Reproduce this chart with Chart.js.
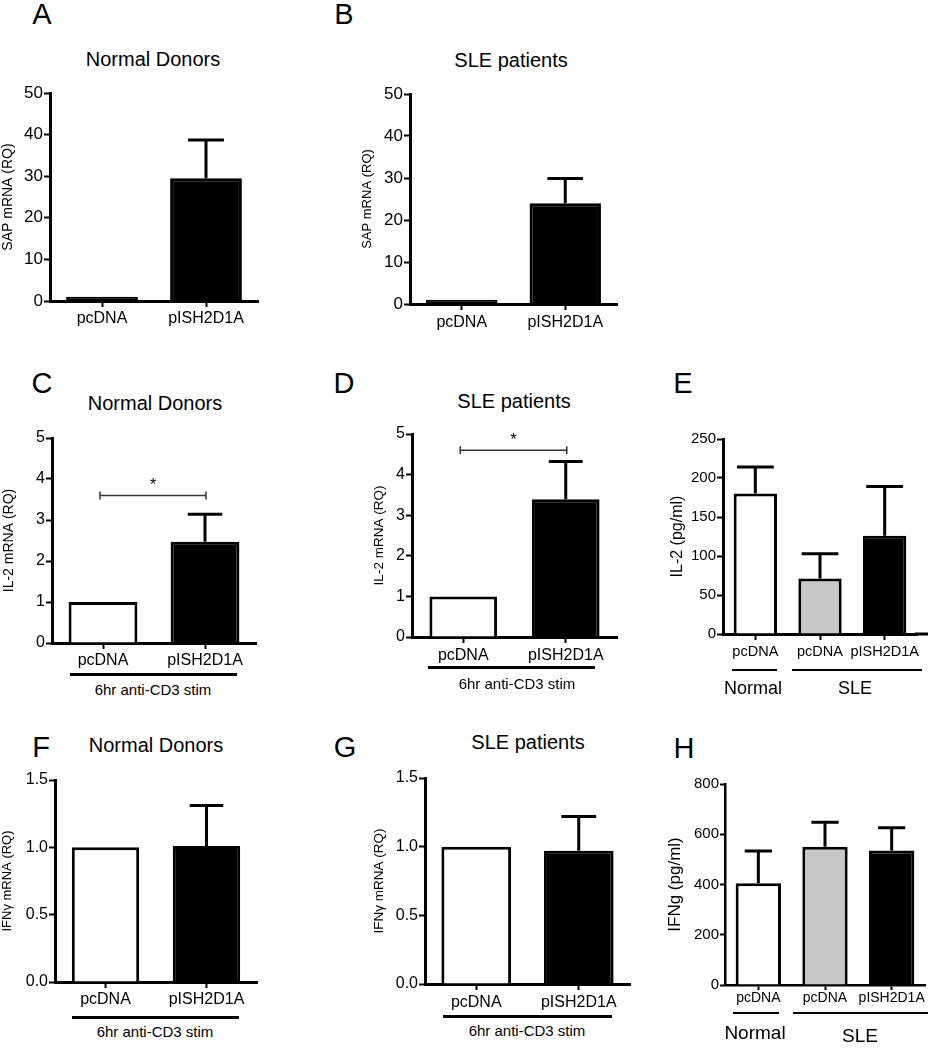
<!DOCTYPE html>
<html>
<head>
<meta charset="utf-8">
<script src="https://cdn.jsdelivr.net/npm/chart.js@4.4.1/dist/chart.umd.min.js"></script>
<style>
  html, body { margin: 0; padding: 0; background: #fff; }
  body { position: relative; width: 931px; height: 1050px; overflow: hidden; }
  canvas { position: absolute; }
  .t { position: absolute; transform: translate(-50%, -50%); font-family: 'Liberation Sans', Arial, sans-serif; line-height: 1; white-space: nowrap; color: #000; }
  .r { position: absolute; background: #000; }
</style>
</head>
<body>
<script>
// ---------------- DATA ----------------
const categoriesRQ = ['pcDNA', 'pISH2D1A'];
const categoriesELISA = ['pcDNA', 'pcDNA', 'pISH2D1A'];

const sapNormalMean = [1.0, 29.5];
const sapNormalSem = [0, 9.2];
const sapSleMean = [1.0, 24.0];
const sapSleSem = [0, 5.9];

const il2NormalMean = [1.0, 2.47];
const il2NormalSem = [0, 0.67];
const il2SleMean = [1.0, 3.39];
const il2SleSem = [0, 0.93];

const il2ProteinMean = [180, 71, 126];
const il2ProteinSem = [34, 32, 63];

const ifngNormalMean = [1.0, 1.01];
const ifngNormalSem = [0, 0.30];
const ifngSleMean = [1.0, 0.97];
const ifngSleSem = [0, 0.25];

const ifngProteinMean = [405, 550, 535];
const ifngProteinSem = [128, 98, 91];

const ticksSAP = ['0', '10', '20', '30', '40', '50'];
const ticksIL2 = ['0', '1', '2', '3', '4', '5'];
const ticksIL2pg = ['0', '50', '100', '150', '200', '250'];
const ticksIFNg = ['0.0', '0.5', '1.0', '1.5'];
const ticksIFNgpg = ['0', '200', '400', '600', '800'];

const sigIL2Normal = 3.6;
const sigIL2Sle = 4.6;

// ---------------- STYLE ----------------
const FF = "'Liberation Sans', Arial, sans-serif";
const fillSAP = ['#000000', '#000000'];
const fillRQ = ['#ffffff', '#000000'];
const fillELISA = ['#ffffff', '#c8c8c8', '#000000'];
const PADT = 12;
const XH = 30;

function makePlugin(p) {
  return {
    id: 'errBars' + p.key,
    afterDatasetsDraw(chart) {
      const ctx = chart.ctx, ys = chart.scales.y, meta = chart.getDatasetMeta(0);
      const vals = chart.data.datasets[0].data;
      ctx.save();
      ctx.strokeStyle = '#000';
      ctx.lineWidth = p.ew;
      meta.data.forEach((bar, i) => {
        const s = p.sem[i];
        if (!s) return;
        const yTop = ys.getPixelForValue(vals[i] + s);
        const cw = bar.width * p.capFrac;
        ctx.beginPath();
        ctx.moveTo(bar.x, bar.y);
        ctx.lineTo(bar.x, yTop);
        ctx.moveTo(bar.x - cw / 2, yTop);
        ctx.lineTo(bar.x + cw / 2, yTop);
        ctx.stroke();
      });
      if (p.sig != null) {
        const y = ys.getPixelForValue(p.sig);
        const x1 = meta.data[0].x - 3, x2 = meta.data[1].x + 1;
        ctx.strokeStyle = '#333';
        ctx.lineWidth = 1.5;
        ctx.beginPath();
        ctx.moveTo(x1, y); ctx.lineTo(x2, y);
        ctx.moveTo(x1, y - 4); ctx.lineTo(x1, y + 4);
        ctx.moveTo(x2, y - 4); ctx.lineTo(x2, y + 4);
        ctx.stroke();
        ctx.fillStyle = '#000';
        ctx.font = '16px ' + FF;
        ctx.textAlign = 'center';
        ctx.textBaseline = 'middle';
        ctx.fillText('*', (x1 + x2) / 2, y - 10);
      }
      if (p.axisExt) {
        const a = chart.chartArea;
        ctx.strokeStyle = '#000';
        ctx.lineWidth = p.aw;
        ctx.beginPath();
        ctx.moveTo(a.right - 2, a.bottom);
        ctx.lineTo(a.right + p.axisExt, a.bottom);
        ctx.stroke();
      }
      ctx.restore();
    }
  };
}

function panel(p) {
  const cv = document.createElement('canvas');
  const left = p.axisX - p.yw;
  const top = p.top - PADT;
  const padR = p.padR || 6;
  const w = Math.round(p.right + padR - left);
  const h = Math.round(p.zero - top + XH);
  cv.width = w; cv.height = h;
  cv.style.left = left + 'px';
  cv.style.top = top + 'px';
  cv.style.width = w + 'px';
  cv.style.height = h + 'px';
  document.body.appendChild(cv);
  const tickGrid = { display: true, drawOnChartArea: false, drawTicks: true, tickLength: p.tl || 6, tickWidth: 2, tickColor: '#000', color: '#000' };
  new Chart(cv, {
    type: 'bar',
    data: {
      labels: p.labels,
      datasets: [{
        data: p.mean,
        backgroundColor: p.fill,
        borderColor: '#000',
        borderWidth: p.bw,
        barPercentage: p.barPct,
        categoryPercentage: 1
      }]
    },
    options: {
      responsive: false,
      animation: false,
      events: [],
      layout: { padding: { left: 0, top: PADT, right: padR, bottom: 0 } },
      plugins: { legend: { display: false }, tooltip: { enabled: false }, title: { display: false } },
      scales: {
        x: {
          offset: true,
          grid: Object.assign({}, tickGrid, { offset: false }),
          border: { display: true, color: '#000', width: p.aw },
          ticks: { color: '#000', font: { family: FF, size: p.xf }, padding: p.xpad, maxRotation: 0, autoSkip: false },
          afterFit(s) { s.height = XH; s.paddingLeft = 0; s.paddingRight = 0; }
        },
        y: {
          min: 0,
          max: parseFloat(p.ticks[p.ticks.length - 1]),
          grid: tickGrid,
          border: { display: true, color: '#000', width: p.aw },
          ticks: { color: '#000', font: { family: FF, size: p.yf }, padding: 1, callback: (v, i) => p.ticks[i] },
          afterBuildTicks(s) { s.ticks = p.ticks.map(t => ({ value: parseFloat(t) })); },
          title: { display: true, text: p.ytitle, color: '#000', font: { family: FF, size: p.tf }, padding: 0 },
          afterFit(s) { s.width = p.yw; s.paddingTop = 0; s.paddingBottom = 0; }
        }
      }
    },
    plugins: [makePlugin(p)]
  });
}

function text(str, cx, cy, size) {
  const d = document.createElement('div');
  d.className = 't';
  d.textContent = str;
  d.style.left = cx + 'px';
  d.style.top = cy + 'px';
  d.style.fontSize = size + 'px';
  document.body.appendChild(d);
}
function rule(x1, x2, y, t) {
  const d = document.createElement('div');
  d.className = 'r';
  d.style.left = x1 + 'px';
  d.style.top = (y - t / 2) + 'px';
  d.style.width = (x2 - x1) + 'px';
  d.style.height = t + 'px';
  document.body.appendChild(d);
}

// ---------------- PANELS ----------------
panel({ key: 'A', labels: categoriesRQ, mean: sapNormalMean, sem: sapNormalSem, fill: fillSAP, ticks: ticksSAP,
  ytitle: 'SAP mRNA (RQ)', axisX: 50, top: 93, zero: 301, right: 258, yw: 50,
  barPct: 0.69, bw: 3, aw: 3, ew: 3, capFrac: 0.5, xf: 16, yf: 17, tf: 14, xpad: 2 });
panel({ key: 'B', labels: categoriesRQ, mean: sapSleMean, sem: sapSleSem, fill: fillSAP, ticks: ticksSAP,
  ytitle: 'SAP mRNA (RQ)', axisX: 410, top: 94, zero: 304, right: 617, yw: 50,
  barPct: 0.69, bw: 3, aw: 3, ew: 3, capFrac: 0.5, xf: 16, yf: 17, tf: 13, xpad: 3 });
panel({ key: 'C', labels: categoriesRQ, mean: il2NormalMean, sem: il2NormalSem, fill: fillRQ, ticks: ticksIL2,
  ytitle: 'IL-2 mRNA (RQ)', axisX: 52, top: 438, zero: 643, right: 256, yw: 51,
  barPct: 0.675, bw: 3, aw: 3, ew: 3, capFrac: 0.5, xf: 16, yf: 16, tf: 14, xpad: 2, sig: sigIL2Normal });
panel({ key: 'D', labels: categoriesRQ, mean: il2SleMean, sem: il2SleSem, fill: fillRQ, ticks: ticksIL2,
  ytitle: 'IL-2 mRNA (RQ)', axisX: 412, top: 434, zero: 637, right: 617, yw: 41,
  barPct: 0.66, bw: 3, aw: 3, ew: 3, capFrac: 0.5, xf: 16, yf: 16, tf: 13.5, xpad: 3, sig: sigIL2Sle });
panel({ key: 'E', labels: categoriesELISA, mean: il2ProteinMean, sem: il2ProteinSem, fill: fillELISA, ticks: ticksIL2pg,
  ytitle: 'IL-2 (pg/ml)', axisX: 723, top: 439, zero: 634, right: 917, yw: 55, padR: 13, axisExt: 11,
  barPct: 0.67, bw: 3, aw: 3, ew: 3, capFrac: 0.85, xf: 14.5, yf: 15, tf: 16, xpad: 3 });
panel({ key: 'F', labels: categoriesRQ, mean: ifngNormalMean, sem: ifngNormalSem, fill: fillRQ, ticks: ticksIFNg,
  ytitle: 'IFNγ mRNA (RQ)', axisX: 55, top: 780, zero: 982, right: 257, yw: 55,
  barPct: 0.667, bw: 3, aw: 3, ew: 3, capFrac: 0.5, xf: 16, yf: 16, tf: 13, xpad: 2 });
panel({ key: 'G', labels: categoriesRQ, mean: ifngSleMean, sem: ifngSleSem, fill: fillRQ, ticks: ticksIFNg,
  ytitle: 'IFNγ mRNA (RQ)', axisX: 425, top: 778, zero: 984, right: 630, yw: 54,
  barPct: 0.68, bw: 3, aw: 3, ew: 3, capFrac: 0.5, xf: 16, yf: 16, tf: 13.5, xpad: 3 });
panel({ key: 'H', labels: categoriesELISA, mean: ifngProteinMean, sem: ifngProteinSem, fill: fillELISA, ticks: ticksIFNgpg,
  ytitle: 'IFNg (pg/ml)', axisX: 725, top: 784, zero: 985, right: 925, yw: 60, tl: 5,
  barPct: 0.68, bw: 3, aw: 2.5, ew: 3, capFrac: 0.6, xf: 14, yf: 15, tf: 17, xpad: 0 });

// ---------------- LETTERS / TITLES ----------------
text('A', 42, 14, 29); text('B', 344, 14, 29);
text('C', 42, 383, 29); text('D', 344, 383, 29); text('E', 683, 383, 29);
text('F', 41, 747, 29); text('G', 345, 747, 29); text('H', 684, 748, 29);

text('Normal Donors', 153, 59, 20);
text('SLE patients', 511, 60, 20);
text('Normal Donors', 155, 403, 20);
text('SLE patients', 514, 401, 20);
text('Normal Donors', 156, 745, 20);
text('SLE patients', 528, 742, 20);

// ---------------- GROUP ANNOTATIONS ----------------
rule(70, 237, 674, 3); text('6hr anti-CD3 stim', 153, 689, 15);
rule(428, 595, 667, 3); text('6hr anti-CD3 stim', 517, 683, 15);
rule(732, 777, 670, 2.5); rule(792, 922, 670, 2.5);
text('Normal', 753, 688, 18); text('SLE', 855, 688, 18);
rule(72, 239, 1017, 3); text('6hr anti-CD3 stim', 155, 1031, 15);
rule(443, 612, 1016, 3); text('6hr anti-CD3 stim', 527, 1030, 15);
rule(733, 779, 1013, 2.5); rule(793, 928, 1013, 2.5);
text('Normal', 755, 1032, 19); text('SLE', 860, 1035, 19);
</script>
</body>
</html>
